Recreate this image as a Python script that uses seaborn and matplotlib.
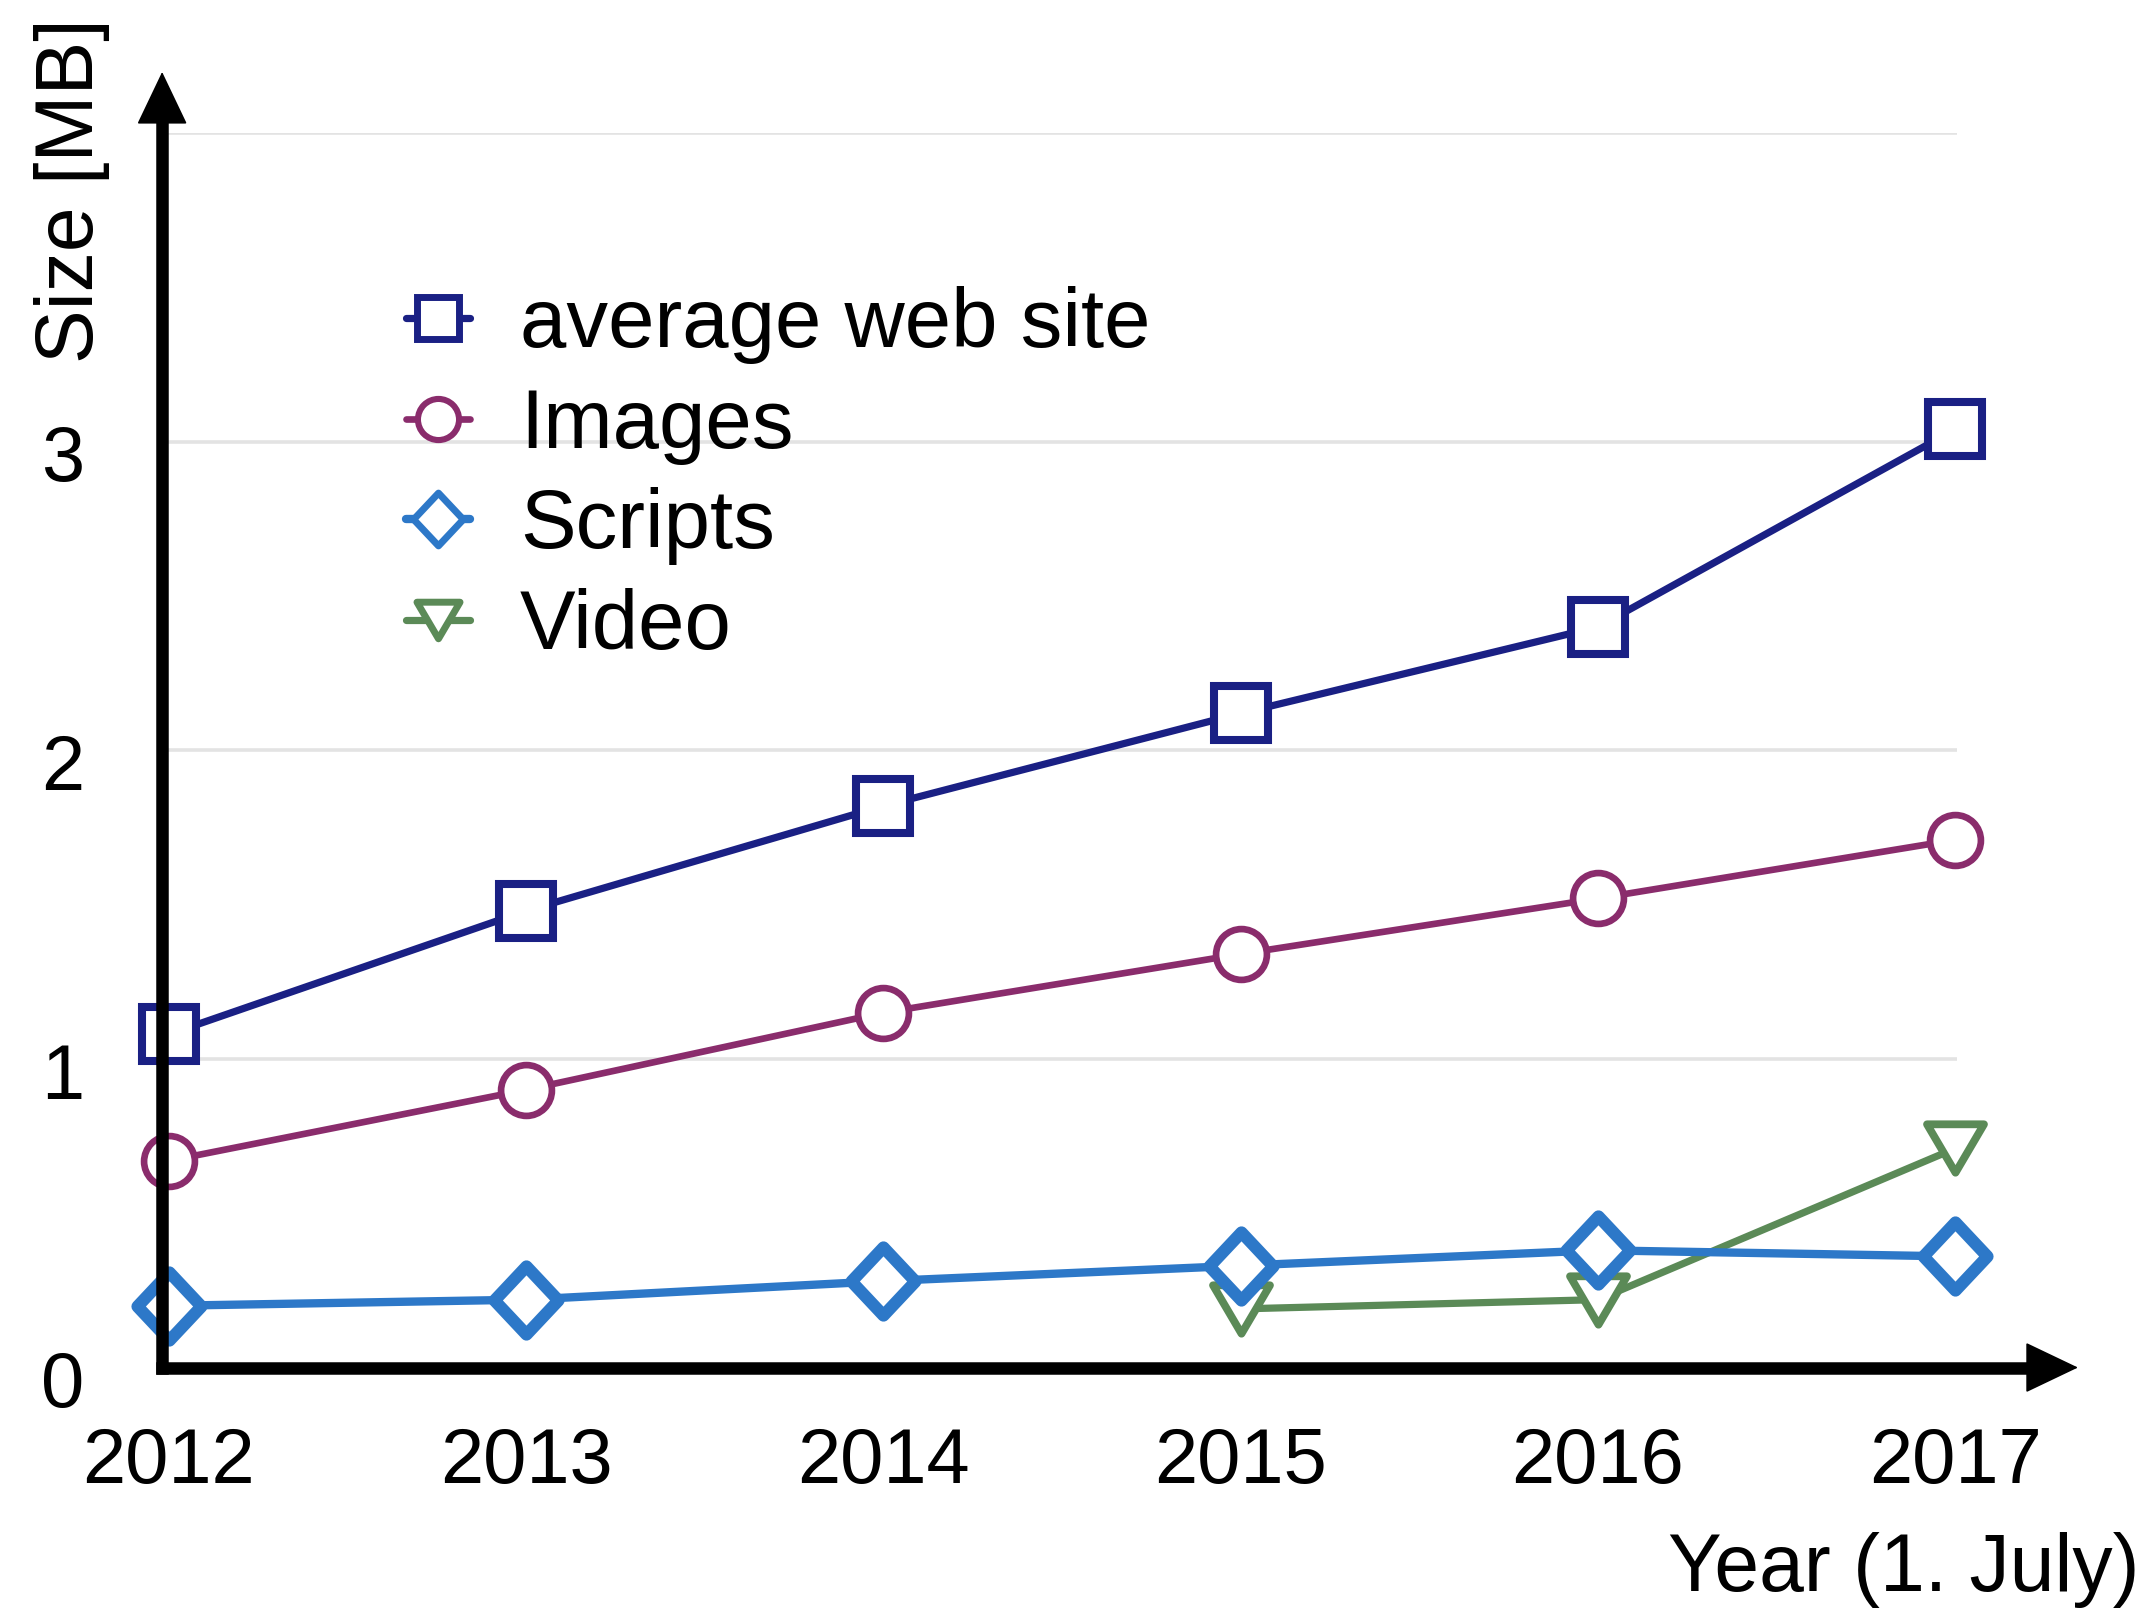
import matplotlib
matplotlib.use("Agg")
import matplotlib.pyplot as plt
import matplotlib.transforms as mtransforms
from matplotlib.markers import MarkerStyle
from matplotlib.path import Path
import seaborn as sns

years = [2012, 2013, 2014, 2015, 2016, 2017]
avg_site = [1.08, 1.48, 1.82, 2.12, 2.40, 3.04]
images = [0.67, 0.90, 1.15, 1.34, 1.52, 1.71]
scripts = [0.20, 0.22, 0.28, 0.33, 0.38, 0.36]
video_years = [2015, 2016, 2017]
video = [0.19, 0.22, 0.71]

y_ticks = [0, 1, 2, 3, 4]
y_tick_labels = ["0", "1", "2", "3", ""]

NAVY = "#1a2084"
PLUM = "#8a2c6c"
BLUE = "#2d78c8"
GREEN = "#5b8a57"

sns.set_theme(style="white")
plt.rcParams["font.family"] = ["Liberation Sans", "DejaVu Sans"]
plt.rcParams["text.color"] = "black"
plt.rcParams["xtick.color"] = "black"
plt.rcParams["ytick.color"] = "black"

# slightly narrow diamond and a wide down-triangle, as in the original
diamond = MarkerStyle(Path([(0, 1), (0.94, 0), (0, -1), (-0.94, 0), (0, 1)],
                           [1, 2, 2, 2, 79]), joinstyle="miter")
tri_down = MarkerStyle(Path([(-1, 0.85), (1, 0.85), (0, -0.85), (-1, 0.85)],
                            [1, 2, 2, 79]), joinstyle="miter")

fig = plt.figure(figsize=(2153 / 200, 1618 / 200), dpi=200)
ax = fig.add_axes([0.0753, 0.1548, 0.8335, 0.7629])

common = dict(ax=ax, mfc="white", clip_on=False)
sns.lineplot(x=years, y=avg_site, color=NAVY, marker="s", ms=19.3, mec=NAVY,
             mew=2.9, lw=2.6, label="average web site", zorder=5, **common)
sns.lineplot(x=years, y=images, color=PLUM, marker="o", ms=18.3, mec=PLUM,
             mew=2.4, lw=2.4, label="Images", zorder=5, **common)
sns.lineplot(x=years, y=scripts, color=BLUE, marker=diamond, ms=24.5, mec=BLUE,
             mew=4.4, lw=3.0, label="Scripts", zorder=4, **common)
sns.lineplot(x=video_years, y=video, color=GREEN, marker=tri_down, ms=20.5,
             mec=GREEN, mew=2.8, lw=2.6, label="Video", zorder=3, **common)

ax.set_xlim(2011.981, 2017.004)
ax.set_ylim(0, 4)
ax.set_xticks(years)
ax.set_xticklabels([str(y) for y in years])
ax.set_yticks(y_ticks)
ax.set_yticklabels(y_tick_labels)
ax.tick_params(axis="x", length=0, pad=21, labelsize=28)
ax.tick_params(axis="y", length=0, pad=28, labelsize=28)
for lab in ax.get_yticklabels():
    lab.set_transform(lab.get_transform()
                      + mtransforms.ScaledTranslation(0, -4 / 72, fig.dpi_scale_trans))

ax.grid(axis="y", color="#e3e3e3", lw=1.3)
ax.grid(axis="x", visible=False)
for sp in ax.spines.values():
    sp.set_visible(False)
ax.set_xlabel("")
ax.set_ylabel("")

# axis arrows: thick shafts drawn over the markers, heads added separately
shaft = dict(color="black", lw=4.5, transform=ax.transAxes, clip_on=False,
             solid_capstyle="projecting", zorder=7)
ax.plot([0, 1.045], [0, 0], **shaft)
ax.plot([0, 0], [0, 1.012], **shaft)
head = dict(arrowstyle="-|>,head_length=0.44,head_width=0.21", lw=0.6,
            color="black", shrinkA=0, shrinkB=0, mutation_scale=40)
ax.annotate("", xy=(1.0676, 0), xytext=(1.0, 0), xycoords="axes fraction",
            arrowprops=head, annotation_clip=False, zorder=7)
ax.annotate("", xy=(0, 1.0496), xytext=(0, 0.98), xycoords="axes fraction",
            arrowprops=head, annotation_clip=False, zorder=7)

leg = ax.legend(loc="upper left", bbox_to_anchor=(0.1885, 0.823),
                bbox_transform=fig.transFigure, frameon=False, fontsize=30,
                handlelength=0.77, handletextpad=0.6,
                labelspacing=0.27, borderpad=0, borderaxespad=0)
# legend symbols are smaller than the plotted markers
for h, ms, mew in zip(leg.legend_handles, [14.8, 14.8, 19, 15.5],
                      [2.5, 2.2, 2.5, 2.5]):
    h.set_markersize(ms)
    h.set_markeredgewidth(mew)

fig.text(2139 / 2153, 1 - 1570 / 1618, "Year (1. July)", ha="right",
         va="center", fontsize=29)
fig.text(0.0335, 0.882, "Size [MB]", rotation=90, ha="center", va="center",
         fontsize=29)

fig.savefig("out.png", dpi=200)
